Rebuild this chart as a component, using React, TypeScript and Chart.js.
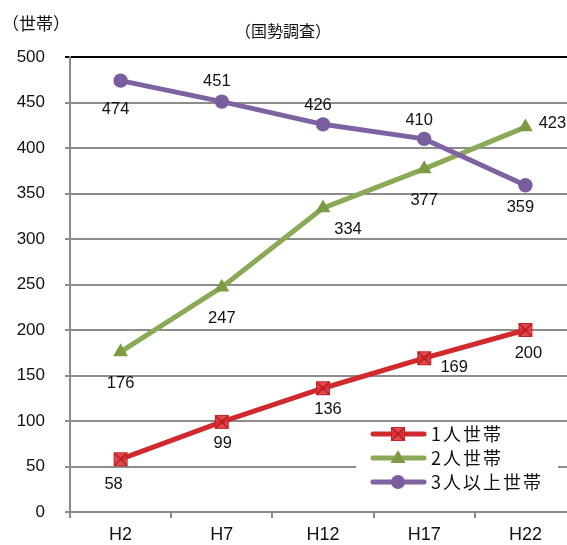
import React, { useEffect, useRef } from "react";
import { Chart, registerables } from "chart.js";

Chart.register(...registerables);

// Census years (Heisei) and household counts by household size
const CATEGORIES = ["H2", "H7", "H12", "H17", "H22"];
const SERIES_NAMES = ["1人世帯", "2人世帯", "3人以上世帯"];
const ONE_PERSON = [58, 99, 136, 169, 200];
const TWO_PERSON = [176, 247, 334, 377, 423];
const THREE_PLUS = [474, 451, 426, 410, 359];
const Y_MAX = 500;
const Y_STEP = 50;
const UNIT_LABEL = "（世帯）";
const SOURCE_LABEL = "（国勢調査）";

const RED = "#D02A2E";
const GREEN = "#8BAA58";
const GREEN_MARK = "#7B9B45";
const PURPLE = "#7F63A1";
const PURPLE_MARK = "#7A5D9E";

const NUM_FONT = '"Liberation Sans", Arial, sans-serif';
const JP_FONT = '"Noto Sans CJK JP", "Noto Sans", sans-serif';

// the plot runs a little past the right edge of the visible frame
const CANVAS_W = 589;
const CANVAS_H = 545;

// value label offsets (dx, dy) from each point, per series
const LABEL_OFFSETS: number[][][] = [
  [[-7, 25], [1, 22], [5, 21], [30, 9], [3, 23]],
  [[0, 32], [0, 31], [25, 21], [0, 32], [27, -4]],
  [[-5, 29], [-5, -20], [-5, -19], [-5, -18], [-5, 22]],
];

function makeSquareMarker(): HTMLCanvasElement {
  const c = document.createElement("canvas");
  c.width = 16;
  c.height = 16;
  const g = c.getContext("2d")!;
  g.fillStyle = "rgba(216, 52, 56, 0.88)";
  g.fillRect(1, 1, 14, 14);
  g.strokeStyle = "#B81C22";
  g.lineWidth = 1.6;
  g.beginPath();
  g.moveTo(2, 2);
  g.lineTo(14, 14);
  g.moveTo(14, 2);
  g.lineTo(2, 14);
  g.stroke();
  g.lineWidth = 1;
  g.strokeStyle = "rgba(196, 30, 36, 0.9)";
  g.strokeRect(1.5, 1.5, 13, 13);
  return c;
}

export default function App() {
  const canvasRef = useRef<HTMLCanvasElement | null>(null);

  useEffect(() => {
    const canvas = canvasRef.current;
    if (!canvas) return;
    const square = makeSquareMarker();

    const valueLabels = {
      id: "valueLabels",
      afterDatasetsDraw(chart: any) {
        const ctx = chart.ctx;
        ctx.save();
        ctx.font = `16.5px ${NUM_FONT}`;
        ctx.fillStyle = "#111";
        ctx.textAlign = "center";
        ctx.textBaseline = "middle";
        chart.data.datasets.forEach((ds: any, i: number) => {
          const meta = chart.getDatasetMeta(i);
          meta.data.forEach((pt: any, j: number) => {
            const [dx, dy] = LABEL_OFFSETS[i][j];
            ctx.fillText(String(ds.data[j]), pt.x + dx, pt.y + dy);
          });
        });
        ctx.restore();
      },
    };

    const decorations = {
      id: "decorations",
      afterDraw(chart: any) {
        const ctx = chart.ctx;
        ctx.save();
        ctx.fillStyle = "#111";
        ctx.textAlign = "center";
        ctx.textBaseline = "middle";
        ctx.font = `17px ${JP_FONT}`;
        ctx.fillText(UNIT_LABEL, 36, 24);
        ctx.font = `16px ${JP_FONT}`;
        ctx.fillText(SOURCE_LABEL, 283, 31);

        // legend box inside the plot
        const bx = 356;
        const by = 424;
        ctx.fillStyle = "#fff";
        ctx.fillRect(bx, by, 202, 70);
        const rows = [434, 458, 482];
        const colors = [RED, GREEN, PURPLE];
        rows.forEach((ry, i) => {
          ctx.strokeStyle = colors[i];
          ctx.lineWidth = 5;
          ctx.lineCap = "round";
          ctx.beginPath();
          ctx.moveTo(373, ry);
          ctx.lineTo(424, ry);
          ctx.stroke();
          const mx = 398;
          if (i === 0) {
            ctx.drawImage(square, mx - 8, ry - 8);
          } else if (i === 1) {
            ctx.fillStyle = GREEN_MARK;
            ctx.beginPath();
            ctx.moveTo(mx, ry - 8);
            ctx.lineTo(mx + 7.5, ry + 5);
            ctx.lineTo(mx - 7.5, ry + 5);
            ctx.closePath();
            ctx.fill();
          } else {
            ctx.fillStyle = PURPLE_MARK;
            ctx.beginPath();
            ctx.arc(mx, ry, 7, 0, Math.PI * 2);
            ctx.fill();
          }
          ctx.fillStyle = "#111";
          ctx.textAlign = "left";
          ctx.font = `18px ${JP_FONT}`;
          (ctx as any).letterSpacing = "2px";
          ctx.fillText(SERIES_NAMES[i], 431, ry);
          (ctx as any).letterSpacing = "0px";
        });
        ctx.restore();
      },
    };

    const chart = new Chart(canvas, {
      type: "line",
      data: {
        labels: CATEGORIES,
        datasets: [
          {
            label: SERIES_NAMES[0],
            data: ONE_PERSON,
            borderColor: RED,
            backgroundColor: RED,
            borderWidth: 5,
            pointStyle: square as any,
            pointRadius: 8,
            order: 3,
          },
          {
            label: SERIES_NAMES[1],
            data: TWO_PERSON,
            borderColor: GREEN,
            backgroundColor: GREEN_MARK,
            borderWidth: 5,
            pointStyle: "triangle",
            pointRadius: 8.6,
            pointBorderWidth: 0,
            pointBackgroundColor: GREEN_MARK,
            order: 2,
          },
          {
            label: SERIES_NAMES[2],
            data: THREE_PLUS,
            borderColor: PURPLE,
            backgroundColor: PURPLE_MARK,
            borderWidth: 5,
            pointStyle: "circle",
            pointRadius: 7.2,
            pointBorderWidth: 0,
            pointBackgroundColor: PURPLE_MARK,
            order: 1,
          },
        ],
      },
      options: {
        responsive: false,
        animation: false,
        devicePixelRatio: 1,
        layout: { padding: { top: 57, right: 5, left: 0, bottom: 0 } },
        elements: { line: { tension: 0, borderJoinStyle: "round" } },
        plugins: {
          legend: { display: false },
          title: { display: false },
          tooltip: { enabled: false },
        },
        scales: {
          x: {
            offset: true,
            afterFit(scale: any) {
              scale.height = 33;
            },
            grid: {
              offset: true,
              drawOnChartArea: false,
              drawTicks: true,
              tickLength: 6,
              color: "#8a8a8a",
              lineWidth: 2,
            },
            border: { color: "#8a8a8a", width: 2 },
            ticks: {
              color: "#111",
              font: { family: NUM_FONT, size: 18 },
              padding: 6,
              maxRotation: 0,
            },
          },
          y: {
            min: 0,
            max: Y_MAX,
            afterFit(scale: any) {
              scale.width = 70;
            },
            grid: {
              color: (c: any) => (c.tick && c.tick.value === Y_MAX ? "#000" : "#8c8c8c"),
              lineWidth: 2,
              tickLength: 5,
            },
            border: { color: "#8a8a8a", width: 2 },
            ticks: {
              stepSize: Y_STEP,
              color: "#111",
              font: { family: NUM_FONT, size: 17 },
              padding: 20,
            },
          },
        },
      },
      plugins: [valueLabels, decorations],
    });

    return () => chart.destroy();
  }, []);

  return (
    <div
      style={{
        position: "absolute",
        left: 0,
        top: 0,
        width: 567,
        height: 545,
        overflow: "hidden",
        background: "#fff",
      }}
    >
      <canvas
        ref={canvasRef}
        width={CANVAS_W}
        height={CANVAS_H}
        style={{ display: "block", width: CANVAS_W, height: CANVAS_H }}
      />
    </div>
  );
}
